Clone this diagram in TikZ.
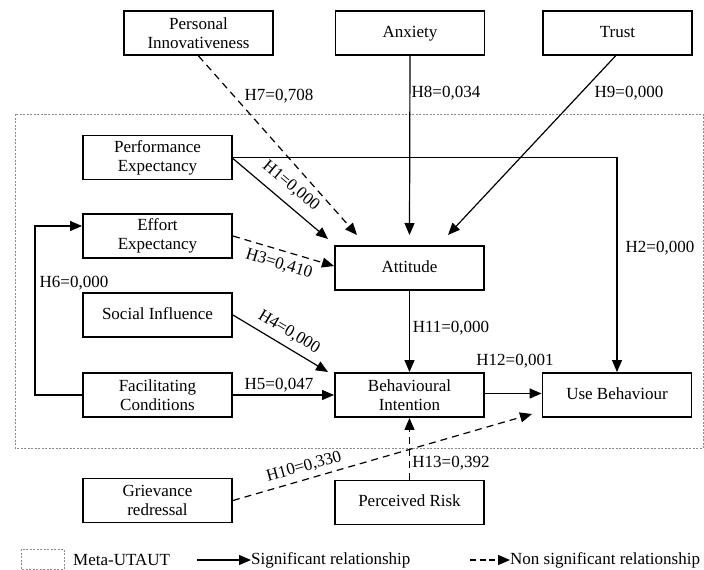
\documentclass[tikz,border=0pt]{standalone}
\usepackage{fontspec}
\setmainfont{Liberation Serif}
\usetikzlibrary{arrows.meta}
\begin{document}
\begin{tikzpicture}[x=1pt,y=-1pt,
  every node/.style={font=\fontsize{17}{19}\selectfont},
  box/.style={draw, line width=1.9pt, minimum width=149pt, minimum height=44pt,
    inner sep=2pt, align=center},
  one/.style={text height=12pt, text depth=4pt},
  sig/.style={line width=1.2pt, -{Triangle[length=12pt,width=10pt]}},
  nsig/.style={sig, dash pattern=on 7pt off 5pt},
  grp/.style={draw=black!45, line width=0.7pt, dash pattern=on 2pt off 1.5pt},
  lbl/.style={inner sep=0pt}]
\useasboundingbox (0,0) rectangle (704,570);

% Meta-UTAUT group frame
\draw[grp] (15,114) rectangle (703,448);

% constructs
\node[box] (pi)    at (198.5,33)  {Personal\\Innovativeness};
\node[box, one] (anx)   at (410,33)    {Anxiety};
\node[box, one] (trust) at (617.5,33)  {Trust};
\node[box] (pe)    at (157.5,157.5) {Performance\\Expectancy};
\node[box] (ee)    at (157.5,236) {Effort\\Expectancy};
\node[box, one] (att)   at (409.5,268) {Attitude};
\node[box, one] (si)    at (157.5,315) {Social Influence};
\node[box] (fc)    at (157.5,395) {Facilitating\\Conditions};
\node[box] (bi)    at (409.5,395) {Behavioural\\Intention};
\node[box, one] (ub)    at (617,395)   {Use Behaviour};
\node[box] (gr)    at (157.5,500.5) {Grievance\\redressal};
\node[box, one] (pr)    at (409.5,502.5) {Perceived Risk};

% arrow tips that stop short of the boxes
\coordinate (tPI) at (357,235);
\coordinate (tPE) at (328,239);
\coordinate (tAx) at (409.5,235);
\coordinate (tTr) at (448,235);
\coordinate (tEE) at (334,266);
\coordinate (tSI) at (328,372);
\coordinate (tGR) at (532,414);

% paths
\draw[nsig] (pi.south) -- (tPI);
\draw[sig]  (anx.south) -- (tAx);
\draw[sig]  ([xshift=-2pt]trust.south) -- (tTr);
\draw[sig]  (pe.east) -| (ub.north);
\draw[sig]  ([yshift=-1pt]pe.east) -- (tPE);
\draw[nsig] (ee.east) -- (tEE);
\draw[sig]  (si.east) -- (tSI);
\draw[sig]  (fc.east) -- (bi.west);
\draw[sig]  (fc.west) -- ++(-47,0) |- ([yshift=10pt]ee.west);
\draw[sig]  (att.south) -- (bi.north);
\draw[sig]  ([yshift=1.5pt]bi.east) -- ([yshift=1.5pt]ub.west);
\draw[nsig] (gr.east) -- (tGR);
\draw[nsig] (pr.north) -- (bi.south);

% path labels
\node[lbl] (l7)  at (279,96)  {H7=0,708};
\node[lbl] (l8)  at (446,93)  {H8=0,034};
\node[lbl] (l9)  at (629,93)  {H9=0,000};
\node[lbl, rotate=-40] (l1) at (291,186) {H1=0,000};
\node[lbl, rotate=-17] (l3) at (279,264) {H3=0,410};
\node[lbl] (l2)  at (660,248) {H2=0,000};
\node[lbl] (l6)  at (74,283)  {H6=0,000};
\node[lbl, rotate=-31] (l4) at (289,332) {H4=0,000};
\node[lbl] (l5)  at (279,385) {H5=0,047};
\node[lbl] (l11) at (451,328) {H11=0,000};
\node[lbl] (l12) at (515,361) {H12=0,001};
\node[lbl] (l13) at (451,463) {H13=0,392};
\node[lbl, rotate=15.6] (l10) at (304,467) {H10=0,330};

% legend
\draw[grp] (21,549) rectangle (64,569);
\node[lbl, anchor=west] (k1) at (73,560) {Meta-UTAUT};
\coordinate (s0) at (197,560);
\node[lbl, anchor=west] (k2) at (251,560) {Significant relationship};
\draw[sig] (s0) -- (k2.west);
\coordinate (n0) at (470,560);
\node[lbl, anchor=west] (k3) at (510,560) {Non significant relationship};
\draw[nsig, dash pattern=on 6pt off 3.5pt] (n0) -- (k3.west);
\end{tikzpicture}
\end{document}
